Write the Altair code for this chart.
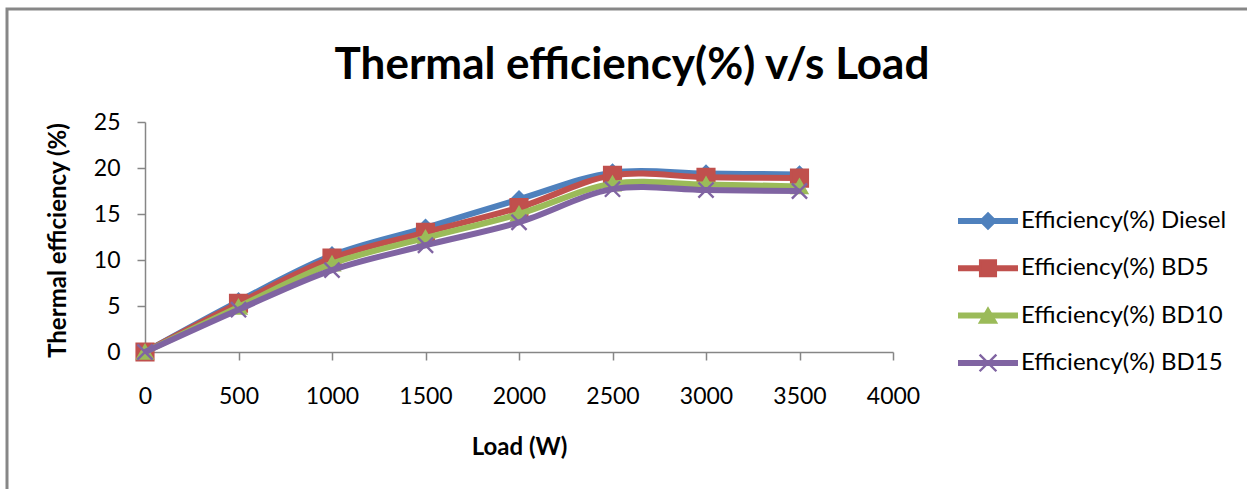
import altair as alt
import pandas as pd

# Load steps (W)
loads = [0, 500, 1000, 1500, 2000, 2500, 3000, 3500]

# Thermal efficiency (%) for each fuel blend
eff_diesel = [0, 5.5, 10.5, 13.5, 16.6, 19.5, 19.4, 19.3]
eff_bd5 = [0, 5.3, 10.2, 13.0, 15.7, 19.2, 19.0, 18.9]
eff_bd10 = [0, 4.9, 9.6, 12.4, 15.0, 18.3, 18.2, 18.0]
eff_bd15 = [0, 4.6, 8.9, 11.6, 14.1, 17.7, 17.6, 17.5]

series_names = [
    "Efficiency(%) Diesel",
    "Efficiency(%) BD5",
    "Efficiency(%) BD10",
    "Efficiency(%) BD15",
]
series_values = [eff_diesel, eff_bd5, eff_bd10, eff_bd15]
series_colors = ["#4F81BD", "#C0504D", "#9BBB59", "#8064A2"]
series_shapes = ["diamond", "square", "triangle-up", "M-1,-1L1,1M-1,1L1,-1"]
series_sizes = [230, 280, 230, 230]

x_ticks = [0, 500, 1000, 1500, 2000, 2500, 3000, 3500, 4000]
y_ticks = [0, 5, 10, 15, 20, 25]

chart_title = "Thermal efficiency(%) v/s Load"

rows = []
for name, vals in zip(series_names, series_values):
    for ld, v in zip(loads, vals):
        rows.append({"series": name, "load": ld, "eff": v})
df = pd.DataFrame(rows)

legend_df = pd.DataFrame({"series": series_names, "slot": list(range(len(series_names)))})

FONT = "Lato"
GRAY = "#868686"

color_scale = alt.Scale(domain=series_names, range=series_colors)
shape_scale = alt.Scale(domain=series_names, range=series_shapes)
size_scale = alt.Scale(domain=series_names, range=series_sizes)

x_enc = alt.X(
    "load:Q",
    scale=alt.Scale(domain=[0, 4000], nice=False, zero=True),
    axis=alt.Axis(
        values=x_ticks,
        format="d",
        title="Load (W)",
        titleY=95,
        titleBaseline="middle",
        labelBaseline="middle",
        labelPadding=36,
        labelFlush=False,
        labelOverlap=False,
    ),
)
y_enc = alt.Y(
    "eff:Q",
    scale=alt.Scale(domain=[0, 25], nice=False),
    axis=alt.Axis(
        values=y_ticks,
        format="d",
        title="Thermal efficiency (%)",
        titleX=-87,
        titleY=118,
        titleAngle=-90,
        titleAlign="center",
        titleBaseline="middle",
        labelPadding=17,
        labelFlush=False,
    ),
)

# One line + marker layer per fuel, drawn in order so the last blend sits on top
data_layers = []
for name, col, shp, sz in zip(series_names, series_colors, series_shapes, series_sizes):
    base = alt.Chart(df).transform_filter(alt.datum.series == name)
    line = base.mark_line(color=col, strokeWidth=6, interpolate="catmull-rom").encode(x=x_enc, y=y_enc)
    pts = base.mark_point(
        shape=shp, filled=True, fill=col, stroke=col, strokeWidth=2.4, size=sz, opacity=1
    ).encode(x=x_enc, y=y_enc)
    data_layers += [line, pts]

plot = alt.layer(*data_layers)

# Legend built from the series list, stacked rows on the right
leg = alt.Chart(legend_df).transform_calculate(py="99 + datum.slot * 47.3")
leg_y = alt.Y("py:Q", scale=None, axis=None)
leg_color = alt.Color("series:N", scale=color_scale, legend=None)
leg_line = leg.mark_rule(strokeWidth=6).encode(
    x=alt.value(813), x2=alt.value(873), y=leg_y, color=leg_color
)
leg_pts = leg.mark_point(filled=True, strokeWidth=2.4, opacity=1).encode(
    x=alt.value(843),
    y=leg_y,
    color=leg_color,
    stroke=alt.Stroke("series:N", scale=color_scale, legend=None),
    shape=alt.Shape("series:N", scale=shape_scale, legend=None),
    size=alt.Size("series:N", scale=size_scale, legend=None),
)
leg_text = leg.mark_text(
    align="left", baseline="middle", font=FONT, fontSize=24, color="black"
).encode(x=alt.value(876), y=leg_y, text="series:N")

single = pd.DataFrame({"title": [chart_title]})

# Outer chart border
frame = alt.Chart(single).mark_rect(
    fillOpacity=0, stroke="#878787", strokeWidth=3
).encode(x=alt.value(-138), y=alt.value(-113), x2=alt.value(1200), y2=alt.value(500))

# Chart heading
heading = alt.Chart(single).mark_text(
    align="center", baseline="alphabetic", font=FONT, fontSize=44, fontWeight="bold", color="black"
).encode(x=alt.value(487), y=alt.value(-43), text="title:N")

chart = (
    alt.layer(plot, alt.layer(frame, heading, leg_line, leg_pts, leg_text))
    .resolve_scale(y="independent", x="independent")
    .properties(
        width=748,
        height=230,
        background="white",
        autosize=alt.AutoSizeParams(type="none"),
        padding={"left": 145, "top": 122, "right": 354, "bottom": 137},
    )
    .configure_view(strokeWidth=0)
    .configure_axis(
        grid=False,
        domainColor=GRAY,
        domainWidth=1.5,
        tickColor=GRAY,
        tickWidth=1.5,
        tickSize=8,
        labelFont=FONT,
        labelFontSize=23,
        labelColor="black",
        titleFont=FONT,
        titleFontSize=24,
        titleFontWeight="bold",
        titleColor="black",
    )
)

chart.save("out.html", embed_options={"renderer": "svg", "actions": False})
